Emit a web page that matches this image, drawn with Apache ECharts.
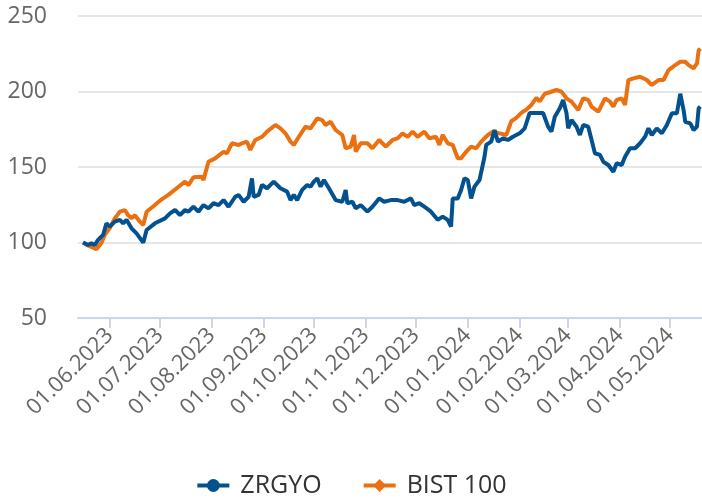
<!DOCTYPE html>
<html>
<head>
<meta charset="utf-8">
<script src="https://cdn.jsdelivr.net/npm/echarts@6/dist/echarts.min.js"></script>
<style>
html,body{margin:0;padding:0;background:#fff;}
#chart{width:702px;height:499px;}
</style>
</head>
<body>
<div id="chart"></div>
<script>
const seriesNames = ['ZRGYO', 'BIST 100'];
const yTicks = [50, 100, 150, 200, 250];

const zDates = ['2023-05-16','2023-05-19','2023-05-21','2023-05-23','2023-05-25','2023-05-28','2023-05-30','2023-06-01','2023-06-04','2023-06-07','2023-06-09','2023-06-11','2023-06-14','2023-06-17','2023-06-21','2023-06-23','2023-06-28','2023-07-04','2023-07-07','2023-07-10','2023-07-13','2023-07-16','2023-07-18','2023-07-21','2023-07-24','2023-07-27','2023-07-30','2023-08-02','2023-08-05','2023-08-08','2023-08-11','2023-08-15','2023-08-17','2023-08-20','2023-08-23','2023-08-25','2023-08-26','2023-08-29','2023-08-31','2023-09-03','2023-09-07','2023-09-11','2023-09-15','2023-09-17','2023-09-19','2023-09-21','2023-09-24','2023-09-27','2023-09-29','2023-10-01','2023-10-03','2023-10-05','2023-10-07','2023-10-10','2023-10-14','2023-10-18','2023-10-20','2023-10-21','2023-10-24','2023-10-26','2023-10-29','2023-11-02','2023-11-05','2023-11-09','2023-11-12','2023-11-16','2023-11-20','2023-11-24','2023-11-28','2023-11-30','2023-12-03','2023-12-06','2023-12-10','2023-12-14','2023-12-17','2023-12-20','2023-12-22','2023-12-23','2023-12-26','2023-12-28','2023-12-30','2024-01-01','2024-01-03','2024-01-05','2024-01-08','2024-01-11','2024-01-12','2024-01-15','2024-01-17','2024-01-19','2024-01-22','2024-01-25','2024-01-28','2024-02-01','2024-02-04','2024-02-07','2024-02-11','2024-02-15','2024-02-18','2024-02-20','2024-02-22','2024-02-25','2024-02-27','2024-02-29','2024-03-01','2024-03-03','2024-03-06','2024-03-08','2024-03-10','2024-03-13','2024-03-15','2024-03-17','2024-03-20','2024-03-22','2024-03-25','2024-03-28','2024-03-30','2024-04-02','2024-04-04','2024-04-07','2024-04-10','2024-04-13','2024-04-16','2024-04-18','2024-04-20','2024-04-23','2024-04-26','2024-04-29','2024-05-02','2024-05-05','2024-05-07','2024-05-09','2024-05-10','2024-05-13','2024-05-15','2024-05-17','2024-05-18','2024-05-19'];
const zValues = [100,98.3,99.5,98.3,101.7,105,112.7,110.5,113.8,115,112.7,115,109.4,106,99.9,108.3,112.7,116,119.3,121.5,118.2,121.5,120.4,123.7,120.4,124.8,122.6,126,124.8,128.1,123.7,130.3,131.5,127,130.3,142.5,130.3,131.5,138.1,135.9,140.3,135.9,133.7,128.1,131.5,128.1,134.8,138.1,137,140.3,142.5,137,141.4,135.9,128.1,127,134.8,126,127,122.6,124.8,120.4,123.7,129.2,127,128.1,128.1,127,129.2,124.8,126,123.7,120.4,115,117.1,115,110.5,129.2,129.2,134.8,142.5,141.4,129.2,137,141.4,156.8,164.6,166.8,174.5,166.8,169,167.9,170,172.3,175.6,185.8,185.8,185.8,176.7,173.4,183.3,188.9,194.4,185.6,175.6,181.1,176.7,171.2,177.8,176.7,167.9,159.1,158,153.5,151.3,146.9,152.5,151.3,156.8,162.4,162.4,165.7,170.1,175.6,171.2,175.6,172.3,177.8,185.6,185.6,198.5,187.7,179.9,178.9,174.5,176.7,188.9,190];

const bDates = ['2023-05-16','2023-05-19','2023-05-24','2023-05-27','2023-05-29','2023-06-01','2023-06-04','2023-06-07','2023-06-10','2023-06-12','2023-06-14','2023-06-16','2023-06-19','2023-06-21','2023-06-23','2023-06-28','2023-07-02','2023-07-06','2023-07-11','2023-07-16','2023-07-18','2023-07-21','2023-07-26','2023-07-27','2023-07-30','2023-08-03','2023-08-08','2023-08-10','2023-08-13','2023-08-17','2023-08-19','2023-08-22','2023-08-24','2023-08-27','2023-08-31','2023-09-03','2023-09-08','2023-09-11','2023-09-14','2023-09-17','2023-09-19','2023-09-22','2023-09-26','2023-09-29','2023-10-03','2023-10-06','2023-10-08','2023-10-11','2023-10-14','2023-10-18','2023-10-20','2023-10-23','2023-10-25','2023-10-26','2023-10-29','2023-11-02','2023-11-05','2023-11-09','2023-11-13','2023-11-17','2023-11-20','2023-11-23','2023-11-26','2023-11-29','2023-12-02','2023-12-06','2023-12-09','2023-12-13','2023-12-15','2023-12-17','2023-12-20','2023-12-23','2023-12-26','2023-12-28','2023-12-31','2024-01-03','2024-01-06','2024-01-09','2024-01-13','2024-01-16','2024-01-20','2024-01-24','2024-01-27','2024-01-30','2024-02-02','2024-02-05','2024-02-08','2024-02-11','2024-02-13','2024-02-16','2024-02-19','2024-02-23','2024-02-26','2024-02-29','2024-03-03','2024-03-07','2024-03-10','2024-03-13','2024-03-15','2024-03-19','2024-03-23','2024-03-26','2024-03-28','2024-03-30','2024-04-02','2024-04-04','2024-04-06','2024-04-09','2024-04-13','2024-04-17','2024-04-20','2024-04-24','2024-04-27','2024-04-30','2024-05-04','2024-05-07','2024-05-10','2024-05-12','2024-05-15','2024-05-17','2024-05-18','2024-05-19'];
const bValues = [100,98,95.5,99.7,105,109.6,116,120.4,121.5,118,116,118,113.8,111.6,120.4,124.8,128.6,131.5,135.9,140.3,138,143.2,143.6,141.4,153.5,155.7,160.1,159,165.7,164.6,165.7,166.8,161.3,167.9,170,173.4,177.8,175.6,172.3,166.8,164.6,170,176.7,175.6,182.2,181.1,177.8,180,174.5,171.2,162.4,163.5,171.2,160.2,165.7,165.7,162.4,167.9,163.5,167.9,169,172.3,170,173.4,170,173.4,169,170,164.6,171.2,165.7,164.6,155.8,155.8,160.1,163.5,162.4,166.8,171.2,173.4,172.3,171.2,180.3,182.5,185.8,188,191.1,195.8,193.5,198.5,199.5,201,199.9,195.5,193.3,187.7,195.5,194.4,190,186.6,195.5,193.3,190,194.4,195.5,191.1,207.6,208.7,209.8,207.6,204.3,207.6,207.6,214.2,217.5,219.7,219.7,217.5,215.3,218.6,227.3,228.4];

const FONT = '"Open Sans", sans-serif';
const zData = zDates.map((d, i) => [d, zValues[i]]);
const bData = bDates.map((d, i) => [d, bValues[i]]);

const chart = echarts.init(document.getElementById('chart'), null, {renderer: 'canvas'});
chart.setOption({
  animation: false,
  textStyle: {fontFamily: FONT},
  grid: {left: 78, right: 0, top: 16, bottom: 181, containLabel: false},
  legend: {
    data: seriesNames,
    bottom: -4,
    left: 'center',
    itemWidth: 32,
    itemHeight: 16,
    itemGap: 40,
    lineStyle: {width: 4},
    textStyle: {fontSize: 25, color: '#333333', fontFamily: FONT, padding: [0, 0, 0, 6]}
  },
  xAxis: {
    type: 'time',
    min: '2023-05-13',
    max: '2024-05-20',
    minInterval: 28 * 86400000,
    maxInterval: 31 * 86400000,
    splitLine: {show: false},
    axisLine: {show: true, lineStyle: {color: '#ccd6eb', width: 2}},
    axisTick: {show: true, length: 10, lineStyle: {color: '#ccd6eb', width: 2}},
    axisLabel: {
      rotate: 45,
      margin: 14,
      fontSize: 22,
      color: '#666666',
      fontFamily: FONT,
      formatter: '{dd}.{MM}.{yyyy}',
      hideOverlap: false
    }
  },
  yAxis: {
    type: 'value',
    min: yTicks[0],
    max: yTicks[yTicks.length - 1],
    interval: 50,
    axisLine: {show: false},
    axisTick: {show: false},
    splitLine: {show: true, lineStyle: {color: '#e6e6e6', width: 2}},
    axisLabel: {margin: 31, fontSize: 23, color: '#666666', fontFamily: FONT}
  },
  series: [
    {
      name: seriesNames[0],
      type: 'line',
      data: zData,
      symbol: 'circle',
      symbolSize: 12,
      showSymbol: false,
      lineStyle: {width: 4, color: '#03528f'},
      itemStyle: {color: '#03528f'},
      z: 3
    },
    {
      name: seriesNames[1],
      type: 'line',
      data: bData,
      symbol: 'diamond',
      symbolSize: 14,
      showSymbol: false,
      lineStyle: {width: 4, color: '#eb700f'},
      itemStyle: {color: '#eb700f'},
      z: 2
    }
  ]
});
</script>
</body>
</html>
